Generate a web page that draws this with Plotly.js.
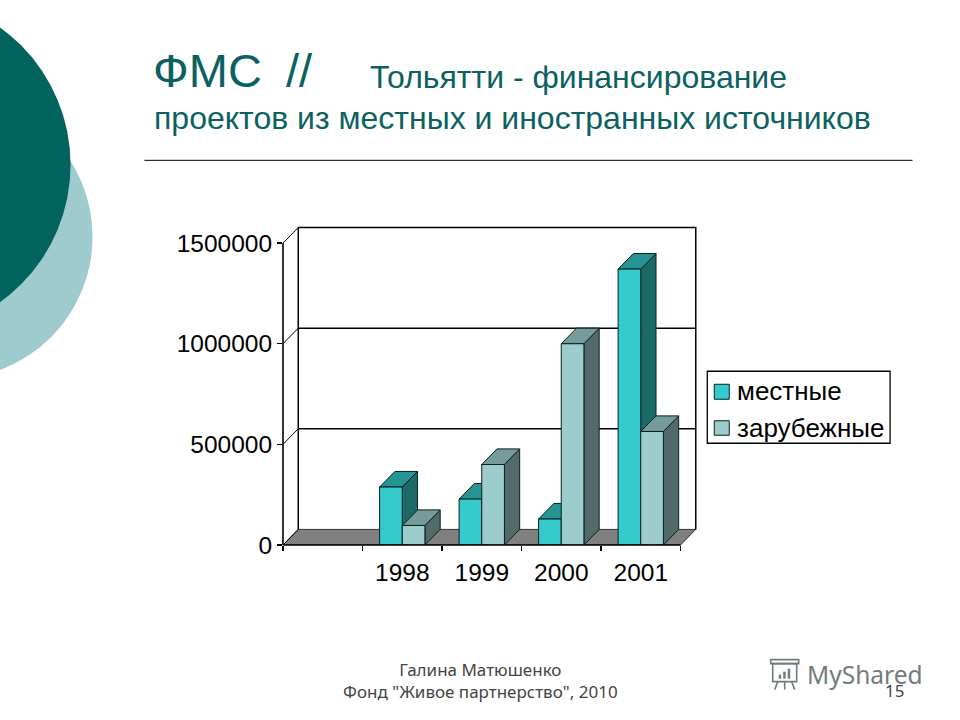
<!DOCTYPE html>
<html>
<head>
<meta charset="utf-8">
<script src="https://cdn.plot.ly/plotly-3.0.1.min.js"></script>
<style>html,body{margin:0;padding:0;background:#fff}</style>
</head>
<body>
<div id="chart" style="width:960px;height:720px"></div>
<script>
const categories = [' ', '1998', '1999', '2000', '2001'];
const years = ['1998', '1999', '2000', '2001'];
const localValues = [288000, 228000, 129000, 1371000];
const foreignValues = [97000, 400000, 1000000, 564000];
const seriesNames = ['местные', 'зарубежные'];
const yTicks = [0, 500000, 1000000, 1500000];

const L = 282.7, W = 415.5, B = 545.3, H = 320.1;
const DX = 0.192, DY = 77500, BAR = 0.285;
const X0 = -0.5, X1 = 4.5, YMAX = 1500000;
const px = v => (v - L) / W;
const py = v => (B - v) / H;
const FONT = 'Liberation Sans, Arial, sans-serif';
const TEAL = '#0b6160';
const LOCAL = '#35cbcc', FOREIGN = '#9ccccc';

function poly(pts, fill, lineColor, width) {
  return {type: 'path', xref: 'x', yref: 'y', layer: 'below',
    path: 'M ' + pts.map(p => p[0].toFixed(4) + ',' + p[1]).join(' L ') + (fill ? ' Z' : ''),
    fillcolor: fill || undefined,
    line: {color: lineColor, width: width}};
}
const shapes = [];
const circle = (cx, cy, r, color) => shapes.push({type: 'circle', xref: 'paper', yref: 'paper', layer: 'below',
  x0: px(cx - r), x1: px(cx + r), y0: py(cy + r), y1: py(cy - r), fillcolor: color, line: {width: 0}});
circle(-50, 237, 142, '#9ecbcd');
circle(-99, 165, 169, '#03635f');

shapes.push({type: 'line', xref: 'paper', yref: 'paper', layer: 'below',
  x0: px(144), x1: px(913), y0: py(160.5), y1: py(160.5), line: {color: '#000', width: 1}});

// logo
const logo = '#6f7d7b';
const pRect = (x0, y0, x1, y1, fill, color, width) => shapes.push({type: 'rect', xref: 'paper', yref: 'paper', layer: 'below',
  x0: px(x0), x1: px(x1), y0: py(y1), y1: py(y0), fillcolor: fill || 'rgba(0,0,0,0)', line: {color, width}});
const logoLine = (x0, y0, x1, y1) => shapes.push({type: 'line', xref: 'paper', yref: 'paper', layer: 'below',
  x0: px(x0), x1: px(x1), y0: py(y0), y1: py(y1), line: {color: logo, width: 1.6}});
pRect(771, 660, 799, 664, null, logo, 1.6);
pRect(773, 664, 797, 682, null, logo, 1.6);
pRect(779, 675, 781.5, 679, logo, logo, 0);
pRect(783.5, 672, 786, 679, logo, logo, 0);
pRect(788, 669, 790.5, 679, logo, logo, 0);
logoLine(778, 682, 775, 690);
logoLine(785, 682, 785, 690);
logoLine(792, 682, 795, 690);

// legend box and swatches
pRect(707.5, 371.5, 890.5, 443.5, '#fff', '#000', 1.3);
pRect(714.5, 384.5, 729.5, 399.5, LOCAL, '#06201f', 1);
pRect(714.5, 421, 729.5, 435.5, FOREIGN, '#06201f', 1);

// back wall
shapes.push(poly([[X0, 0], [X1, 0], [X1 + DX, DY], [X0 + DX, DY]], '#808080', '#333', 1));
shapes.push(poly([[X0 + DX, DY], [X0 + DX, YMAX + DY], [X1 + DX, YMAX + DY], [X1 + DX, DY]], null, '#000', 1.5));
yTicks.forEach(v => {
  if (v > 0 && v < YMAX) shapes.push(poly([[X0 + DX, v + DY], [X1 + DX, v + DY]], null, '#000', 1.5));
  shapes.push(poly([[X0, v], [X0 + DX, v + DY]], null, '#000', 1));
});

function faces(values, offset, topColor, sideColor) {
  years.forEach((year, i) => {
    const a = categories.indexOf(year) + offset, b = a + BAR, v = values[i];
    shapes.push(poly([[b, 0], [b + DX, DY], [b + DX, v + DY], [b, v]], sideColor, '#06201f', 1));
    shapes.push(poly([[a, v], [a + DX, v + DY], [b + DX, v + DY], [b, v]], topColor, '#06201f', 1));
  });
}
faces(localValues, -BAR, '#279494', '#1c6a6a');
faces(foreignValues, 0, '#779a9a', '#536a6a');

// front axis lines
shapes.push({type: 'line', xref: 'paper', yref: 'y', layer: 'above', x0: 0, x1: 0, y0: 0, y1: YMAX, line: {color: '#000', width: 1.6}});
shapes.push({type: 'line', xref: 'x', yref: 'paper', layer: 'above', x0: X0, x1: X1, y0: 0, y1: 0, line: {color: '#000', width: 1.6}});

const note = (text, x, y, size, color, family, anchor) => ({
  text, xref: 'paper', yref: 'paper', x: px(x), y: py(y), xanchor: anchor || 'left', yanchor: 'middle',
  showarrow: false, font: {size, color, family: family || FONT}});

const SANS = 'Noto Sans, sans-serif';
const annotations = [
  note('ФМС', 151, 71, 47, TEAL),
  note('//', 284, 71, 47, TEAL),
  note('Тольятти - финансирование', 368, 77, 32, TEAL),
  note('проектов из местных и иностранных источников', 152, 118, 32, TEAL),
  note(seriesNames[0], 735, 391, 26, '#000'),
  note(seriesNames[1], 735, 428, 26, '#000'),
  note('Галина Матюшенко<br>Фонд "Живое партнерство", 2010', 480, 681, 17, '#444', SANS, 'center'),
  note('MyShared', 805, 675, 24.5, '#6f7d7b', SANS),
  note('15', 883, 691, 17, '#444', SANS)
];

const bar = (name, values, color) => ({type: 'bar', name, x: years, y: values,
  marker: {color, line: {color: '#06201f', width: 1}}, hoverinfo: 'x+y'});

Plotly.newPlot('chart', [
  bar(seriesNames[0], localValues, LOCAL),
  bar(seriesNames[1], foreignValues, FOREIGN)
], {
  width: 960, height: 720, showlegend: false,
  paper_bgcolor: '#fff', plot_bgcolor: 'rgba(0,0,0,0)',
  margin: {l: L, r: 960 - L - W, t: B - H, b: 720 - B, pad: 0, autoexpand: false},
  barmode: 'group', bargap: 0.43, bargroupgap: 0,
  font: {family: FONT, color: '#000'},
  xaxis: {type: 'category', categoryorder: 'array', categoryarray: categories,
    range: [X0, 4.72], tickson: 'boundaries', ticks: 'outside', ticklen: 5, tickwidth: 1.4, tickcolor: '#000',
    ticklabelstandoff: 10,
    showgrid: false, zeroline: false, showline: false, tickfont: {size: 24.5, color: '#000', family: FONT}},
  yaxis: {range: [0, 1590000], tickmode: 'array', tickvals: yTicks, ticktext: yTicks.map(String),
    ticks: 'outside', ticklen: 5, tickwidth: 1.4, tickcolor: '#000',
    showgrid: false, zeroline: false, showline: false, tickfont: {size: 24.5, color: '#000', family: FONT}},
  shapes, annotations
}, {displayModeBar: false, staticPlot: true});
</script>
</body>
</html>
